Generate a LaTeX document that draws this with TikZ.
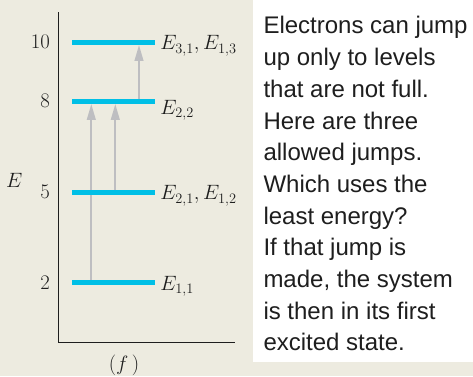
\documentclass[tikz,border=0pt]{standalone}
\usepackage{xcolor}
\usepackage{fontspec}
\setsansfont{Liberation Sans}
\usepackage{tikz}
\usetikzlibrary{arrows.meta, positioning, backgrounds}
\definecolor{paper}{HTML}{EDEBE0}
\definecolor{levelcyan}{HTML}{00BFE6}
\definecolor{jumpgray}{HTML}{BEBEC1}
\definecolor{ink}{HTML}{1E1E1E}
\tikzset{
  level/.style={
    rectangle, inner sep=0pt,
    minimum width=83pt, minimum height=4.6pt,
    fill=levelcyan,
  },
  jump/.style={-{Triangle[length=16pt, width=8.5pt]}, line width=2.3pt, color=jumpgray},
  axisline/.style={line width=1.5pt, color=ink},
  energy/.style={font=\fontsize{20}{22}\selectfont, text=ink, inner sep=0pt},
  statelabel/.style={font=\fontsize{20}{22}\selectfont, text=ink, inner sep=0pt},
  notebox/.style={
    rectangle, inner sep=0pt, anchor=north west,
    minimum width=220pt, minimum height=361.7pt,
    fill=white,
  },
  notetext/.style={
    font=\sffamily\fontsize{24}{31.7}\selectfont, text=ink,
    align=left, anchor=north west, inner sep=0pt,
  },
}

\begin{document}
\begin{tikzpicture}[x=1pt, y=-1pt]

  \useasboundingbox (0,0) rectangle (473,376);
  \begin{scope}[on background layer]
    \fill[paper] (0,0) rectangle (473,376);
  \end{scope}

  % axes
  \coordinate (axtop) at (58.3,12);
  \coordinate (origin) at (58.3,342.3);
  \coordinate (axend) at (235,342.3);
  \draw[axisline] (axtop) -- (origin) -- (axend);

  % energy levels
  \node[level] (lvl2) at (113.5,282.7) {};
  \node[level] (lvl5) at (113.5,192.3) {};
  \node[level] (lvl8) at (113.5,101.3) {};
  \node[level] (lvl10) at (113.5,42.3) {};

  \node[energy, anchor=east] (n10) at (50,42.3) {$10$};
  \node[energy, anchor=east] (n8) at (50,101.3) {$8$};
  \node[energy, anchor=east] (n5) at (50,192.3) {$5$};
  \node[energy, anchor=east] (n2) at (50,282.7) {$2$};
  \node[energy] (eaxis) at (14.3,180) {$E$};

  \node[statelabel, right=5pt of lvl10, yshift=-3.5pt] (s10) {$E_{3,1}, E_{1,3}$};
  \node[statelabel, right=5pt of lvl8, yshift=-9pt] (s8) {$E_{2,2}$};
  \node[statelabel, right=5pt of lvl5, yshift=-3.5pt] (s5) {$E_{2,1}, E_{1,2}$};
  \node[statelabel, right=5pt of lvl2, yshift=-3.5pt] (s2) {$E_{1,1}$};

  \node[energy] (cap) at (124,365.5) {$(f\,)$};

  % allowed jumps
  \coordinate (j1) at (91.3,0);
  \coordinate (j2) at (115.3,0);
  \coordinate (j3) at (139,0);
  \begin{scope}[on background layer]
    \draw[jump] (j1 |- lvl2.center) -- (j1 |- lvl8.south);
    \draw[jump] (j2 |- lvl5.center) -- (j2 |- lvl8.south);
    \draw[jump] (j3 |- lvl8.center) -- (j3 |- lvl10.south);
  \end{scope}

  % note
  \node[notebox] (note) at (253,0) {};
  \node[notetext] (notetxt) at (263.3,16.3) {Electrons can jump\\
    up only to levels\\
    that are not full.\\
    Here are three\\
    allowed jumps.\\
    Which uses the\\
    least energy?\\
    If that jump is\\
    made, the system\\
    is then in its first\\
    excited state.};

\end{tikzpicture}
\end{document}
